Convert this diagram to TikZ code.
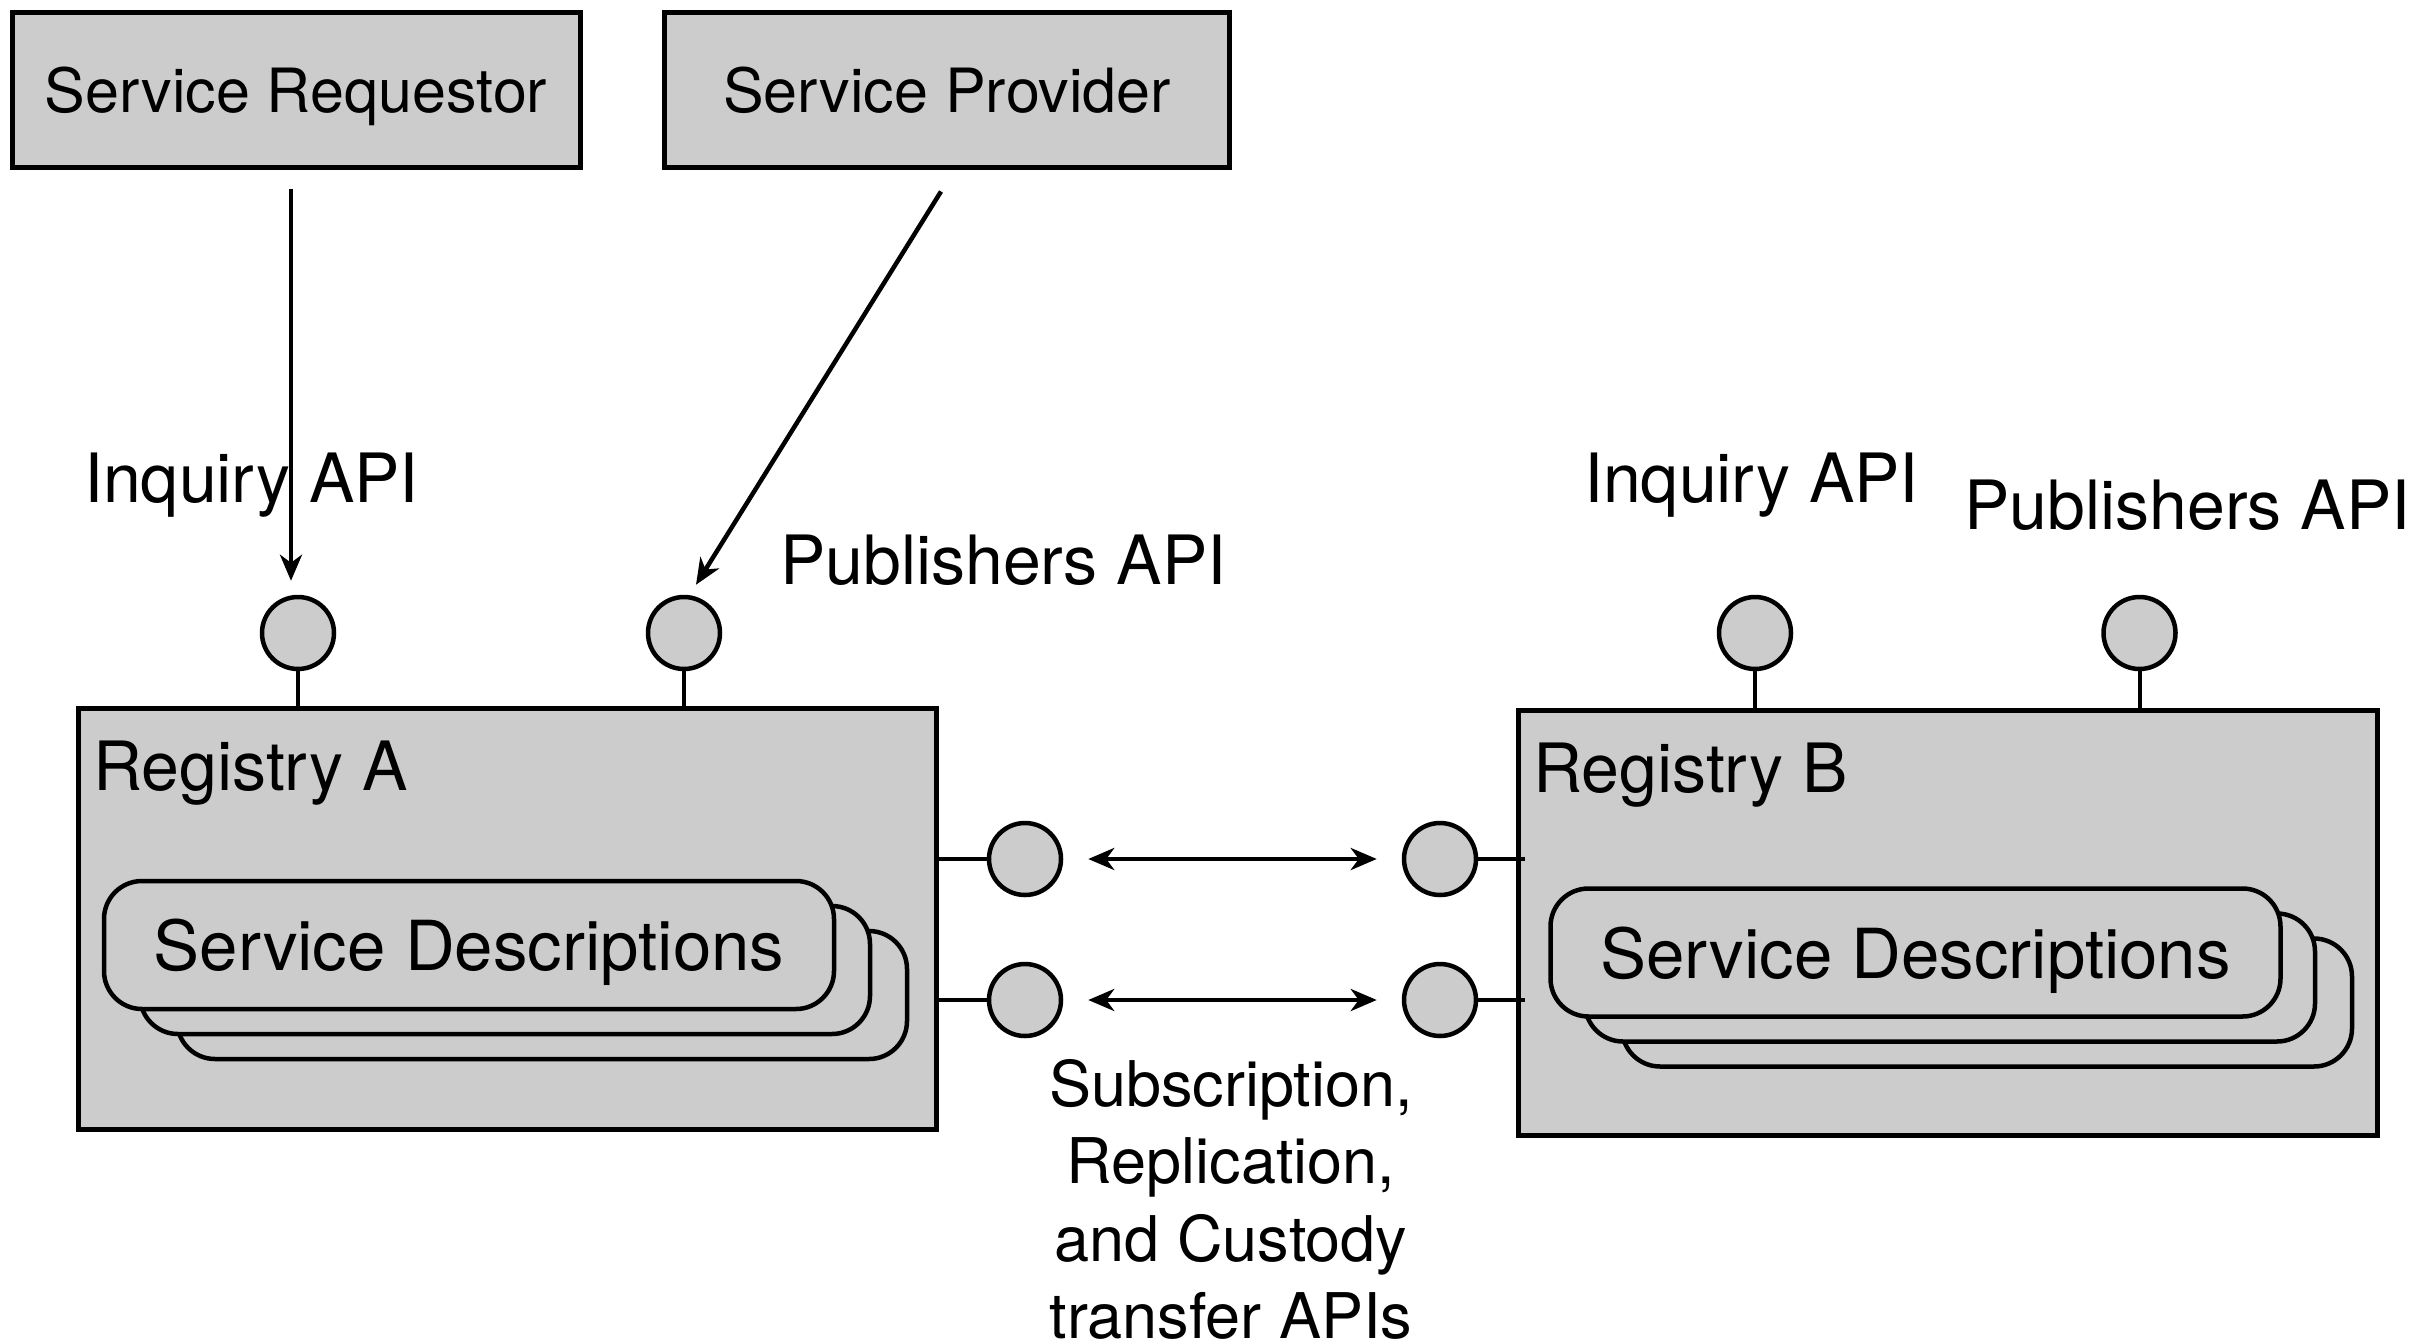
\documentclass[tikz,border=0pt]{standalone}
\usepackage{fontspec}
\setmainfont{TeX Gyre Heros}
\usetikzlibrary{arrows.meta,calc}
\definecolor{boxgray}{HTML}{CCCCCC}
\begin{document}
\begin{tikzpicture}[x=1pt,y=-1pt,
  box/.style={draw, rectangle, line width=5pt, fill=boxgray, inner sep=0pt},
  lolli/.style={draw, circle, line width=4.5pt, fill=boxgray, minimum size=72pt, inner sep=0pt},
  desc/.style={draw, rectangle, line width=4.5pt, fill=boxgray, rounded corners=38pt, minimum width=730pt, minimum height=128pt, inner sep=0pt},
  stem/.style={line width=4pt},
  tip/.tip={Stealth[length=26pt, width=22pt, inset=8pt]},
  arr/.style={line width=4.5pt, -tip},
  dbl/.style={line width=4.5pt, tip-tip, shorten <=25pt, shorten >=25pt},
  txt/.style={inner sep=0pt},
  lab/.style={txt, font=\fontsize{68}{80}\selectfont},
  boxtxt/.style={txt, font=\fontsize{61}{72}\selectfont},
  desctxt/.style={txt, font=\fontsize{69}{80}\selectfont},
  note/.style={txt, align=center, font=\fontsize{63}{77.5}\selectfont}
]
\useasboundingbox (0,0) rectangle (2431,1344);

% top boxes
\node[box, minimum width=568pt, minimum height=155pt] (SR) at (296,89.5) {};
\node[boxtxt, anchor=base] (SRt) at (296,112) {Service Requestor};
\node[box, minimum width=565pt, minimum height=155pt] (SP) at (946.5,89.5) {};
\node[boxtxt, anchor=base] (SPt) at (947,112) {Service Provider};

% registries
\node[box, minimum width=858pt, minimum height=421pt] (RA) at (507,918.5) {};
\node[box, minimum width=859pt, minimum height=425pt] (RB) at (1947.5,922.5) {};
\node[lab, anchor=base west] (RAt) at (93,790) {Registry A};
\node[lab, anchor=base west] (RBt) at (1533,792) {Registry B};

% service description stacks
\node[desc] (dA3) at (542,995) {};
\node[desc] (dA2) at (505,970) {};
\node[desc] (dA1) at (469,945) {};
\node[desctxt, anchor=base] (dAt) at (469,970) {Service Descriptions};
\node[desc] (dB3) at (1987,1002.5) {};
\node[desc] (dB2) at (1950,977.5) {};
\node[desc] (dB1) at (1915.5,952.5) {};
\node[desctxt, anchor=base] (dBt) at (1915.5,978) {Service Descriptions};

% lollipops
\node[lolli] (iqA) at (298,633) {};
\node[lolli] (pbA) at (684,633) {};
\node[lolli] (iqB) at (1755,633) {};
\node[lolli] (pbB) at (2139.5,633) {};
\node[lolli] (sA1) at (1025,859) {};
\node[lolli] (sA2) at (1025,1000) {};
\node[lolli] (sB1) at (1440,859) {};
\node[lolli] (sB2) at (1440,1000) {};

\draw[stem] (iqA.south) -- (iqA.south |- RA.north);
\draw[stem] (pbA.south) -- (pbA.south |- RA.north);
\draw[stem] (iqB.south) -- (iqB.south |- RB.north);
\draw[stem] (pbB.south) -- (pbB.south |- RB.north);
\draw[stem] (RA.east |- sA1) -- (sA1.west);
\draw[stem] (RA.east |- sA2) -- (sA2.west);
\draw[stem] (sB1.east) -- ([xshift=9pt]RB.west |- sB1);
\draw[stem] (sB2.east) -- ([xshift=9pt]RB.west |- sB2);

% labels
\node[lab, anchor=base west] (lIqA) at (84,502) {Inquiry API};
\node[lab, anchor=base west] (lPbA) at (780,584) {Publishers API};
\node[lab, anchor=base west] (lIqB) at (1584,502) {Inquiry API};
\node[lab, anchor=base west] (lPbB) at (1964,529) {Publishers API};

% arrows
\draw[arr] ([xshift=-5pt,yshift=-19pt]SR.south) -- ([xshift=-7pt,yshift=14pt]iqA.north);
\draw[arr] ([xshift=-5.5pt,yshift=-22pt]SP.south) -- ([xshift=12pt,yshift=10pt]pbA.north);
\draw[dbl] (sA1) -- (sB1);
\draw[dbl] (sA2) -- (sB2);

\node[note, anchor=north] (apis) at (1231,1059) {Subscription,\\Replication,\\and Custody\\transfer APIs};
\end{tikzpicture}
\end{document}
